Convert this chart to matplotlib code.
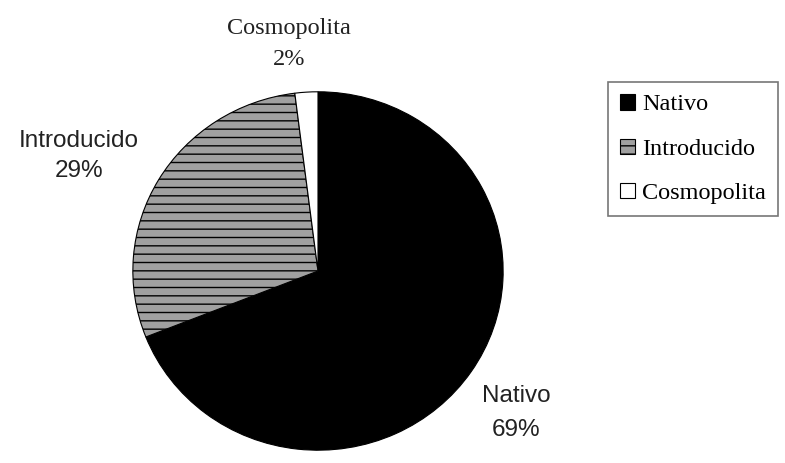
import numpy as np
import matplotlib.pyplot as plt
from matplotlib.patches import Patch

categorias = ['Nativo', 'Introducido', 'Cosmopolita']
porcentajes = [69, 29, 2]
colores = ['black', '#a0a0a0', 'white']
tramas = [None, '--', None]

W, H = 785, 463
plt.rcParams['hatch.linewidth'] = 1.0
fig = plt.figure(figsize=(W / 100, H / 100), dpi=100)

# pie box in pixels: left 131, right 505, top 90, bottom 452
ax = fig.add_axes([131 / W, 1 - 452 / H, (505 - 131) / W, (452 - 90) / H])
wedges, _ = ax.pie(porcentajes, colors=colores, startangle=90, counterclock=False,
                   wedgeprops=dict(edgecolor='black', linewidth=0.8))
for w, t in zip(wedges, tramas):
    if t:
        w.set_hatch(t)
ax.set_aspect('auto')
ax.set_xlim(-1.01, 1.01)
ax.set_ylim(-1.01, 1.01)

def px(x, y):
    return x / W, 1 - y / H

etiquetas = [f'{c}\n{p}%' for c, p in zip(categorias, porcentajes)]
sans = dict(family='Liberation Sans', fontsize=17.5, color='#222222',
            ha='center', va='center')
fig.text(*px(516, 413), etiquetas[0], linespacing=1.65, **sans)
fig.text(*px(79, 156), etiquetas[1], linespacing=1.5, **sans)
fig.text(*px(289, 44), etiquetas[2], family='Liberation Serif', fontsize=17.5,
         color='#222222', ha='center', va='center', linespacing=1.6)

handles = [Patch(facecolor=c, edgecolor='black', hatch=t, linewidth=0.8)
           for c, t in zip(colores, tramas)]
leg = fig.legend(handles, categorias, loc='upper left',
                 bbox_to_anchor=(608 / W, 1 - 82 / H),
                 prop={'family': 'Liberation Serif', 'size': 17.5},
                 frameon=True, fancybox=False, handlelength=0.6, handleheight=0.6,
                 handletextpad=0.3, labelspacing=0.95, borderpad=0.5,
                 borderaxespad=0)
leg.get_frame().set_edgecolor('#555555')
leg.get_frame().set_linewidth(1.2)

fig.savefig('out.png', dpi=100)
